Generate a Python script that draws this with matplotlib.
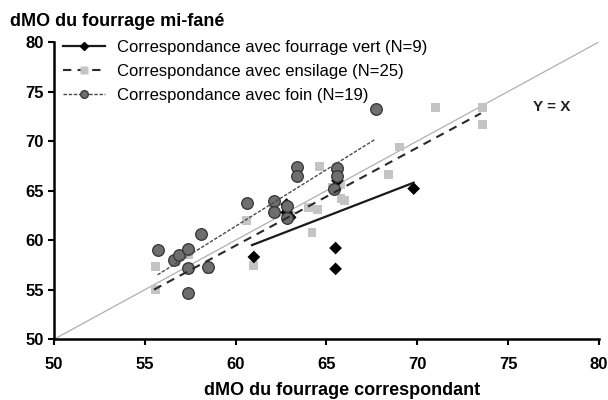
import matplotlib
matplotlib.use("Agg")
import matplotlib.pyplot as plt
from matplotlib.lines import Line2D
from matplotlib.legend_handler import HandlerLine2D

plt.rcParams['font.family'] = ['Liberation Sans', 'DejaVu Sans']

# Data: (x = dMO du fourrage correspondant, y = dMO du fourrage mi-fané)
foin_x = [55.7, 56.6, 56.9, 57.4, 57.4, 57.4, 58.1, 58.5, 60.6, 62.1, 62.1,
          62.8, 62.8, 63.4, 63.4, 65.6, 65.6, 65.4, 67.7]
foin_y = [59.0, 58.0, 58.5, 59.1, 57.2, 54.7, 60.6, 57.3, 63.7, 64.0, 62.8,
          63.4, 62.2, 67.4, 66.5, 67.3, 66.5, 65.2, 73.2]

ens_x = [55.6, 55.6, 57.4, 61.0, 64.2, 64.0, 64.5, 64.6, 65.3, 65.8, 65.8,
         68.4, 69.0, 71.0, 73.6, 73.6, 62.8, 63.0, 57.4, 56.7, 58.5, 62.1,
         60.6, 65.6, 66.0]
ens_y = [57.3, 55.0, 57.0, 57.4, 60.8, 63.3, 63.1, 67.4, 65.3, 64.2, 65.6,
         66.6, 69.4, 73.4, 73.4, 71.7, 63.0, 62.5, 58.5, 57.8, 57.0, 63.5,
         62.0, 66.0, 64.0]

vert_x = [61.0, 65.5, 65.5, 69.8, 65.6, 62.8, 65.6, 62.8, 63.0]
vert_y = [58.3, 59.2, 57.1, 65.2, 67.0, 62.8, 66.0, 63.6, 62.3]

# Regression line end points
vert_line_x = [60.9, 69.8]
vert_line_y = [59.5, 65.8]
ens_line_x = [55.5, 73.5]
ens_line_y = [55.0, 72.8]
foin_line_x = [55.7, 67.7]
foin_line_y = [56.5, 70.2]

legend_labels = ["Correspondance avec fourrage vert (N=9)",
                 "Correspondance avec ensilage (N=25)",
                 "Correspondance avec foin (N=19)"]


class EndMarkerHandler(HandlerLine2D):
    def get_xdata(self, legend, xdescent, ydescent, width, height, fontsize):
        xdata = [-xdescent, -xdescent + width]
        return xdata, [-xdescent + width]


fig = plt.figure(figsize=(6.08, 4.0), dpi=100)
ax = fig.add_axes([0.089, 0.152, 0.896, 0.743])

# Y = X line
ax.plot([50, 80], [50, 80], color='#b0b0b0', lw=0.9, zorder=1)

ax.scatter(ens_x, ens_y, marker='s', s=40, color='#c4c4c4', edgecolor='none', zorder=2)
ax.scatter(vert_x, vert_y, marker='D', s=42, color='black', edgecolor='none', zorder=3)
ax.scatter(foin_x, foin_y, marker='o', s=70, color='#6e6e6e', edgecolor='#333333',
           linewidth=0.9, zorder=4)

ax.plot(vert_line_x, vert_line_y, color='#1a1a1a', lw=1.6, zorder=5)
ax.plot(ens_line_x, ens_line_y, color='#2a2a2a', lw=1.5, ls=(0, (4, 3)), zorder=5)
ax.plot(foin_line_x, foin_line_y, color='#4a4a4a', lw=1.0, ls=(0, (2.5, 1.2)), zorder=5)

ax.text(77.4, 73.4, "Y = X", fontsize=11, fontweight='bold', ha='center', va='center',
        color='#222222')

ax.set_xlim(50, 80)
ax.set_ylim(50, 80)
ax.set_xticks(range(50, 81, 5))
ax.set_yticks(range(50, 81, 5))
for s in ['top', 'right']:
    ax.spines[s].set_visible(False)
for s in ['left', 'bottom']:
    ax.spines[s].set_linewidth(1.8)
ax.tick_params(axis='both', direction='out', length=4, width=1.5, labelsize=12)
ax.tick_params(axis='x', pad=9)
for lab in ax.get_xticklabels() + ax.get_yticklabels():
    lab.set_fontweight('bold')

handles = [
    Line2D([], [], color='#1a1a1a', lw=1.6, marker='D', markersize=4.5,
           markerfacecolor='black', markeredgecolor='black'),
    Line2D([], [], color='#2a2a2a', lw=1.5, ls=(0, (4, 3)), marker='s', markersize=5.5,
           markerfacecolor='#c4c4c4', markeredgecolor='none'),
    Line2D([], [], color='#4a4a4a', lw=1.0, ls=(0, (2.5, 1.2)), marker='o', markersize=5.5,
           markerfacecolor='#6e6e6e', markeredgecolor='#3a3a3a'),
]
leg = ax.legend(handles, legend_labels, loc='upper left', frameon=False, fontsize=12,
                handlelength=2.5, handletextpad=0.75, labelspacing=0.55,
                borderaxespad=0.0, bbox_to_anchor=(0.004, 1.03),
                handler_map={Line2D: EndMarkerHandler()})

fig.text(0.016, 0.945, "dMO du fourrage mi-fané", fontsize=13, fontweight='bold',
         ha='left', va='center')
ax.set_xlabel("dMO du fourrage correspondant", fontsize=13, fontweight='bold')
ax.xaxis.set_label_coords(0.529, -0.145)

fig.savefig("out.png", dpi=100)
